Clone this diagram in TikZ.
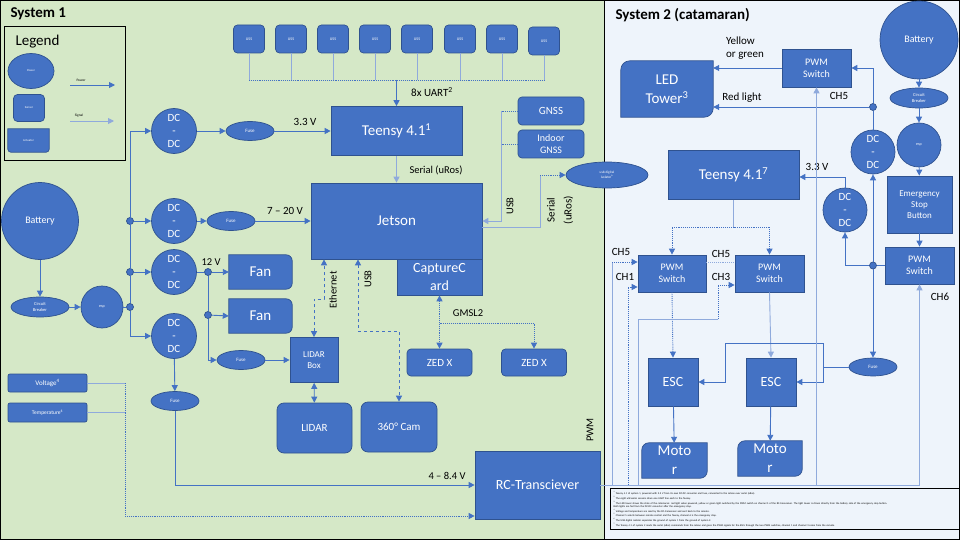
\documentclass[tikz,border=0pt]{standalone}
\usepackage{fontspec}
\setmainfont{Carlito}
\usetikzlibrary{shapes.geometric,arrows.meta,backgrounds}
\definecolor{bleu}{RGB}{68,114,196}
\definecolor{bord}{RGB}{47,82,143}
\definecolor{clair}{RGB}{143,170,220}
\definecolor{vert}{RGB}{213,232,199}
\definecolor{ciel}{RGB}{238,244,251}
\newcommand{\forme}[5]{\filldraw[draw=bord, fill=bleu, line width=0.7pt] (#1.west) [#2] -- (#1.north west) [#3] -- (#1.north east) [#4] -- (#1.south east) [#5] -- (#1.south west) [sharp corners] -- cycle;}
\newcommand{\fs}[1]{\fontsize{#1}{#1}\selectfont}

\begin{document}
\begin{tikzpicture}[x=1pt, y=-1pt, >={Triangle[length=6pt,width=6pt]},
	boite/.style={draw=bord, fill=bleu, text=white, inner sep=1pt, align=center, line width=0.7pt},
	capteur/.style={boite, rounded corners=4pt},
	rond/.style={boite, circle, inner sep=0pt},
	ovale/.style={boite, ellipse, inner sep=0pt},
	actionneur/.style={text=white, inner sep=0pt, align=center},
	jonction/.style={boite, circle, minimum size=7pt, inner sep=0pt},
	puissance/.style={draw=bleu, line width=0.9pt},
	signal/.style={draw=bleu, line width=0.9pt, densely dotted},
	leger/.style={draw=clair, line width=0.9pt},
	etiq/.style={inner sep=1pt, font=\fontsize{11}{13}\selectfont}]
	\useasboundingbox (0,0) rectangle (960,540);
	
	% system 1
	\node[anchor=west, font=\bfseries\fs{15}] (titreA) at (7,14) {System 1};
	\node[draw, line width=0.9pt, minimum width=121, minimum height=134, anchor=north west] (legende) at (4,26) {};
	\node[anchor=west, font=\fs{15}] (legTitre) at (12,42) {Legend};
	\node[ovale, minimum width=46, minimum height=35, font=\fs{3}] (lgPow) at (31,71) {Power};
	\node[capteur, minimum width=31, minimum height=27, font=\fs{3}] (lgSen) at (29,108) {Sensor};
	\node[actionneur, minimum width=41, minimum height=23, font=\fs{3}] (lgAct) at (28.5,140.5) {Actuator};
	\coordinate (lgPa) at (70,85); \coordinate (lgPb) at (115,85);
	\coordinate (lgSa) at (70,121); \coordinate (lgSb) at (114,121);
	\draw[puissance,->] (lgPa) -- (lgPb);
	\draw[leger,->] (lgSa) -- (lgSb);
	\node[font=\fs{3.5}] (lgPt) at (81,80) {Power};
	\node[font=\fs{3.5}] (lgSt) at (79,116) {Signal};
	
	\coordinate (bus) at (396.5,80);
	\foreach \i/\x/\y in {1/249/39,2/291/39,3/333/39,4/375/39,5/417/39,6/460/39,7/502/39,8/544/41} {
		\node[capteur, minimum width=31, minimum height=28, font=\fs{4}] (uss\i) at (\x,\y) {USS};
		\draw[leger] (uss\i.south) -- (uss\i.south |- bus);
	}
	\draw[signal] (uss1.south |- bus) -- (uss8.south |- bus);
	
	\node[boite, minimum width=131, minimum height=49, font=\fs{15}] (teensyA) at (396.5,131) {Teensy 4.1\textsuperscript{1}};
	\node[boite, minimum width=171, minimum height=76, font=\fs{15}] (jetson) at (396.5,221) {Jetson};
	\node[boite, minimum width=85, minimum height=36, inner sep=0pt, font=\fontsize{14}{18}\selectfont] (capture) at (439.5,277) {CaptureC\\ard};
	\node[capteur, minimum width=66, minimum height=28, font=\fs{11}] (gnss) at (551,111) {GNSS};
	\node[capteur, minimum width=66, minimum height=28, font=\fontsize{10}{12}\selectfont] (gnssIn) at (551,144) {Indoor\\GNSS};
	\node[ovale, minimum width=82, minimum height=26, font=\fontsize{3.5}{4.5}\selectfont] (isol) at (607,175) {usb digital\\isolator\textsuperscript{6}};
	
	\draw[puissance,->] (bus) -- (teensyA.north);
	\node[etiq] (lUart) at (432,92) {8x UART\textsuperscript{2}};
	\draw[leger,->] (teensyA.south) -- (jetson.north);
	\node[etiq, font=\fs{10.5}] (lSer) at (436,170) {Serial (uRos)};
	
	\coordinate (usbH) at (501,111); \coordinate (usbB) at (501,221);
	\draw[signal] (gnss.west) -- (usbH);
	\draw[signal] (gnssIn.west) -- (gnssIn.west -| usbH);
	\draw[leger,->] (usbH) -- (usbB) -- (jetson.east |- usbB);
	\node[etiq, rotate=90, font=\fs{10.5}] (lUsbG) at (510,206) {USB};
	
	\coordinate (serB) at (540,175);
	\draw[leger] ([yshift=-6pt]jetson.east) -| (serB);
	\draw[signal,->] (serB) -- (isol.west);
	\node[etiq, rotate=90, align=center, font=\fontsize{11}{17}\selectfont] (lSer2) at (560,210) {Serial\\(uRos)};
	
	% alimentation
	\node[rond, minimum size=77, font=\fs{10}] (batA) at (40,221) {Battery};
	\node[ovale, minimum width=58, minimum height=20, font=\fontsize{4.5}{5.5}\selectfont] (cbA) at (40,307) {Circuit\\Breaker};
	\node[rond, minimum size=42, font=\fs{4}] (espA) at (102,307) {esp};
	\node[jonction] (jA1) at (130,221) {};
	\node[jonction] (jA2) at (130,272) {};
	\node[jonction] (jA3) at (130,307) {};
	\foreach \n/\y in {dcA1/131,dcA2/221,dcA3/272,dcA4/336}
		\node[rond, minimum size=45, font=\fontsize{11}{13}\selectfont] (\n) at (174,\y) {DC\\-\\DC};
	\node[ovale, minimum width=48, minimum height=19, font=\fs{5}] (fuseA1) at (250,131) {Fuse};
	\node[ovale, minimum width=48, minimum height=19, font=\fs{5}] (fuseA2) at (231,221) {Fuse};
	\node[ovale, minimum width=48, minimum height=19, font=\fs{5}] (fuseA3) at (241,360) {Fuse};
	\node[ovale, minimum width=48, minimum height=19, font=\fs{5}] (fuseA4) at (175,401) {Fuse};
	\node[jonction] (jA4) at (208,272) {};
	\node[jonction] (jA5) at (208,315) {};
	\node[actionneur, minimum width=63, minimum height=34, font=\fs{15}] (fanA) at (260.5,272) {Fan};
	\node[actionneur, minimum width=63, minimum height=34, font=\fs{15}] (fanB) at (260.5,316) {Fan};
	\node[boite, minimum width=48, minimum height=45, font=\fontsize{9}{11}\selectfont] (lidarBox) at (314,360) {LIDAR\\Box};
	\node[capteur, rounded corners=7pt, minimum width=75, minimum height=50, font=\fs{11}] (lidar) at (314.5,428) {LIDAR};
	\node[capteur, rounded corners=7pt, minimum width=76, minimum height=50, font=\fs{11}] (cam) at (399,427) {360° Cam};
	\node[capteur, minimum width=65, minimum height=27, font=\fs{11}] (zedA) at (439.5,362.5) {ZED X};
	\node[capteur, minimum width=65, minimum height=27, font=\fs{11}] (zedB) at (534,362.5) {ZED X};
	\node[boite, minimum width=125, minimum height=68, font=\fs{14}] (rc) at (537.5,485) {RC-Transciever};
	\node[capteur, rounded corners=2pt, minimum width=79, minimum height=18, font=\fs{7}] (volt) at (47.5,383) {Voltage\textsuperscript{4}};
	\node[capteur, rounded corners=2pt, minimum width=79, minimum height=19, font=\fs{5.5}] (temp) at (47.5,412.5) {Temperature\textsuperscript{4}};
	
	\draw[puissance,->] (batA) -- (cbA);
	\draw[puissance,->] (cbA) -- (espA);
	\draw[puissance] (espA) -- (jA3);
	\draw[puissance,->] (jA3) |- (dcA1.west);
	\draw[puissance,->] (jA3) |- (dcA4.west);
	\draw[puissance,->] (jA1) -- (dcA2);
	\draw[puissance,->] (jA2) -- (dcA3);
	\draw[puissance,->] (dcA1) -- (fuseA1);
	\draw[puissance,->] (fuseA1) -- (teensyA.west |- fuseA1);
	\node[etiq] (l33) at (305,122) {3.3 V};
	\draw[puissance,->] (dcA2) -- (fuseA2);
	\draw[puissance,->] (fuseA2) -- (jetson.west |- fuseA2);
	\node[etiq] (l720) at (285,211) {7 – 20 V};
	\draw[puissance] (dcA3) -- (jA4);
	\node[etiq, font=\fs{10.5}] (l12) at (211,262) {12 V};
	\draw[puissance,->] (jA4) -- (fanA.west);
	\draw[puissance] (jA4) -- (jA5);
	\draw[puissance,->] (jA5) -- (fanB.west);
	\draw[puissance,->] (jA5) |- (fuseA3.west);
	\draw[puissance,->] (fuseA3) -- (lidarBox.west |- fuseA3);
	\draw[puissance,<->] (lidarBox) -- (lidar);
	
	\coordinate (eth) at (324,299);
	\draw[puissance,dashed,<->] (lidarBox.north) |- (eth) -- (eth |- jetson.south);
	\node[etiq, rotate=90, font=\fs{10.5}] (lEth) at (333,290) {Ethernet};
	\coordinate (usbC) at (358,331); \coordinate (usbD) at (399,331);
	\draw[puissance,dashed,<->] (usbC |- jetson.south) -- (usbC) -- (usbD) -- (cam.north);
	\node[etiq, rotate=90, font=\fs{10.5}] (lUsbC) at (368,279) {USB};
	\coordinate (gm) at (439.5,323);
	\draw[signal,<->] (capture.south) -- (zedA.north);
	\draw[signal,->] (gm) -| (zedB.north);
	\node[etiq, font=\fs{10.5}] (lGm) at (468,313) {GMSL2};
	
	\draw[puissance,->] (dcA4) -- (fuseA4);
	\draw[puissance,->] (fuseA4) |- (rc.west);
	\node[etiq, font=\fs{10.5}] (l84) at (447,476) {4 – 8.4 V};
	\coordinate (sgV) at (125,383); \coordinate (sgB) at (125,516);
	\draw[leger] (volt.east) -- (sgV);
	\draw[leger] (temp.east) -- (temp.east -| sgV);
	\draw[signal] (sgV) -- (sgB);
	\draw[signal,->] (sgB) -- (sgB -| rc.west);
	\node[etiq, rotate=90, font=\fs{10.5}] (lPwm) at (590,430) {PWM};
	
	% system 2
	\node[anchor=west, font=\bfseries\fs{15}] (titreB) at (612,15) {System 2 (catamaran)};
	\node[rond, minimum size=78, font=\fs{10}] (batB) at (919,40) {Battery};
	\node[ovale, minimum width=58, minimum height=20, font=\fontsize{4.5}{5.5}\selectfont] (cbB) at (919,98) {Circuit\\Breaker};
	\node[rond, minimum size=44, font=\fs{4}] (espB) at (919,145) {esp};
	\node[boite, minimum width=65, minimum height=57, font=\fontsize{9}{11}\selectfont] (stop) at (919.5,204.5) {Emergency\\Stop\\Button};
	\node[boite, minimum width=69, minimum height=37, font=\fontsize{10}{12}\selectfont] (pwmD) at (919.5,265.5) {PWM\\Switch};
	\node[jonction] (jB1) at (873,265.5) {};
	\node[jonction] (jB2) at (873,107) {};
	\node[rond, minimum size=44, font=\fontsize{11}{13}\selectfont] (dcB1) at (873,152) {DC\\-\\DC};
	\node[rond, minimum size=44, font=\fontsize{11}{13}\selectfont] (dcB2) at (845,210) {DC\\-\\DC};
	\node[boite, minimum width=131, minimum height=49, font=\fs{15}] (teensyB) at (733.5,175) {Teensy 4.1\textsuperscript{7}};
	\node[boite, minimum width=69, minimum height=38, font=\fontsize{10}{12}\selectfont] (pwmT) at (816.5,68) {PWM\\Switch};
	\node[actionneur, minimum width=92, minimum height=56, font=\fontsize{15}{19}\selectfont] (led) at (667,89) {LED\\Tower\textsuperscript{3}};
	\node[boite, minimum width=68, minimum height=37, font=\fontsize{10}{12}\selectfont] (pwmL) at (672,273.5) {PWM\\Switch};
	\node[boite, minimum width=69, minimum height=37, font=\fontsize{10}{12}\selectfont] (pwmR) at (769.5,273.5) {PWM\\Switch};
	\node[boite, minimum width=50, minimum height=48, font=\fs{14}] (escA) at (673,382) {ESC};
	\node[boite, minimum width=50, minimum height=48, font=\fs{14}] (escB) at (771,382) {ESC};
	\node[actionneur, minimum width=65, minimum height=35, font=\fontsize{15}{19}\selectfont] (motA) at (674.5,460.5) {Moto\\r};
	\node[actionneur, minimum width=64, minimum height=35, font=\fontsize{15}{19}\selectfont] (motB) at (770,458.5) {Moto\\r};
	\node[ovale, minimum width=48, minimum height=18, font=\fs{5}] (fuseB) at (873,367) {Fuse};
	
	\draw[puissance,->] (batB) -- (cbB);
	\draw[puissance,->] (cbB) -- (espB);
	\draw[puissance,->] (espB) -- (stop);
	\draw[puissance,->] (stop) -- (pwmD);
	\draw[puissance] (pwmD) -- (jB1);
	\draw[puissance,->] (jB1) -| (dcB2.south);
	\draw[puissance,->] (jB1) -- (dcB1.south);
	\draw[puissance] (dcB1.north) -- (jB2);
	\draw[puissance,->] (jB2) -- (led.east |- jB2);
	\node[etiq] (lRed) at (742,98) {Red light};
	\draw[puissance,->] (jB2) |- (pwmT.east);
	\draw[puissance,->] (pwmT.west) -- (led.east |- pwmT.west);
	\node[etiq, align=left] (lYel) at (745,48) {Yellow\\or green};
	\coordinate (v33) at (845,177);
	\draw[puissance,->] (dcB2.north) -- (v33) -- (v33 -| teensyB.east);
	\node[etiq] (l33b) at (817,167) {3.3 V};
	
	\coordinate (tb) at (733.5,227);
	\draw[leger] (teensyB.south) -- (tb);
	\draw[signal,->] (tb) -| (pwmL.north);
	\draw[signal,->] (tb) -| (pwmR.north);
	\draw[signal,draw=clair] ([yshift=11.5pt]pwmL.east) -- ([yshift=11.5pt]pwmR.west);
	\draw[signal,->] (pwmL.south) -- (escA.north);
	\draw[leger,->] (pwmR.south) -- (escB.north);
	\draw[puissance,->] (escA) -- (motA);
	\draw[puissance,->] (escB) -- (motB);
	
	\coordinate (fz1) at (823,343); \coordinate (fz2) at (725,343);
	\draw[puissance,->] (jB1) -- (fuseB);
	\draw[puissance] (fuseB.west) -- (fuseB.west -| fz1);
	\draw[puissance,->] (fz1) -- (fz2) |- (escA.east);
	\draw[puissance,->] (fz1) |- (escB.east);
	
	% canaux PWM
	\coordinate (ch6) at (919.5,485); \coordinate (ch5t) at (816.5,485);
	\coordinate (ch5b) at (612,485); \coordinate (c5) at (612,262);
	\coordinate (ch1b) at (628,485); \coordinate (c1) at (628,287);
	\coordinate (ch3b) at (638,485); \coordinate (c3b) at (638,319);
	\coordinate (c3c) at (718,319); \coordinate (c3) at (718,285);
	\draw[leger,->] (rc.east) -- (ch6) -- (pwmD.south);
	\draw[leger,->] (ch5t) -- (pwmT.south);
	\draw[leger] (ch5b) -- (c5);
	\draw[signal,->] (c5) -- (c5 -| pwmL.west);
	\draw[signal,->] (ch1b) -- (c1) -- (c1 -| pwmL.west);
	\draw[leger] (ch3b) -- (c3b) -- (c3c);
	\draw[signal,->] (c3c) -- (c3) -- (c3 -| pwmR.west);
	\node[etiq] (lc5a) at (621,252) {CH5};
	\node[etiq] (lc1) at (625,277) {CH1};
	\node[etiq] (lc5b) at (721,254) {CH5};
	\node[etiq] (lc3) at (721,277) {CH3};
	\node[etiq] (lc5c) at (839,96) {CH5};
	\node[etiq] (lc6) at (940,297) {CH6};
	
	\node[draw, line width=1.2pt, anchor=north west, minimum width=349, minimum height=39, inner sep=3pt, align=left, text width=342, font=\fontsize{2.6}{3.6}\selectfont] (notes) at (609.5,488) {%
		\textsuperscript{1} Teensy 4.1 of system 1, powered with 3.3 V from its own DC-DC converter and fuse, connected to the Jetson over serial (uRos).\\
		\textsuperscript{2} The eight ultrasonic sensors share one UART line each to the Teensy.\\
		\textsuperscript{3} The LED tower shows the state of the catamaran: red light when powered, yellow or green light switched by the PWM switch on channel 5 of the RC-transceiver. The light tower is driven directly from the battery side of the emergency stop button.\\
		Both lights are fed from the DC-DC converter after the emergency stop.\\
		\textsuperscript{4} Voltage and temperature are read by the RC-transceiver and sent back to the remote.\\
		\textsuperscript{5} Channel 5 selects between remote control and the Teensy, channel 6 is the emergency stop.\\
		\textsuperscript{6} The USB digital isolator separates the ground of system 1 from the ground of system 2.\\
		\textsuperscript{7} The Teensy 4.1 of system 2 reads the serial (uRos) commands from the Jetson and gives the PWM signals for the ESCs through the two PWM switches, channel 1 and channel 3 come from the remote.};
	
	% fonds et formes
	\begin{pgfonlayer}{background}
		\fill[vert] (0,0) rectangle (605,540);
		\fill[ciel] (605,0) rectangle (960,540);
		\draw[line width=1pt] (0.5,0.5) rectangle (604.5,539.5);
		\draw[line width=1pt] (604.5,0.5) rectangle (959.5,539.5);
		\forme{lgAct}{sharp corners}{sharp corners}{rounded corners=3pt}{rounded corners=3pt}
		\forme{fanA}{sharp corners}{rounded corners=6pt}{rounded corners=6pt}{sharp corners}
		\forme{fanB}{sharp corners}{rounded corners=6pt}{rounded corners=6pt}{sharp corners}
		\forme{led}{rounded corners=9pt}{sharp corners}{rounded corners=9pt}{sharp corners}
		\forme{motA}{rounded corners=7pt}{sharp corners}{rounded corners=7pt}{sharp corners}
		\forme{motB}{rounded corners=7pt}{sharp corners}{rounded corners=7pt}{sharp corners}
	\end{pgfonlayer}
\end{tikzpicture}
\end{document}
